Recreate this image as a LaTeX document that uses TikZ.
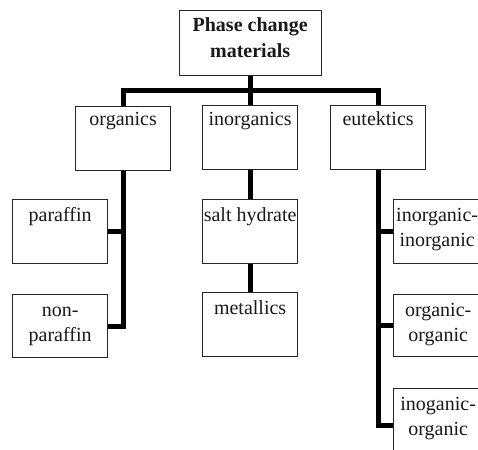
\documentclass[tikz,border=0pt]{standalone}
\usepackage{fontspec}
\setmainfont{Liberation Serif}
\begin{document}
\begin{tikzpicture}[x=1pt,y=-1pt,
  box/.style={draw=black!85, line width=1.3pt, fill=white, minimum width=95pt, minimum height=64pt, inner sep=0pt, anchor=north west},
  lbl/.style={font=\fontsize{20}{25}\selectfont, align=center, anchor=base, inner sep=0pt, text=black!90},
  conn/.style={line width=5pt, line join=miter, black}]
\useasboundingbox (0,0) rectangle (478,449);
\clip (0,0) rectangle (478,449);
\fill[white] (0,0) rectangle (478,449);
% boxes
\node[box, minimum width=142pt, minimum height=65pt] (pcm) at (178.5,10) {};
\node[box] (org) at (75,106) {};
\node[box] (inorg) at (202,105) {};
\node[box] (eut) at (330,105) {};
\node[box] (par) at (12,199) {};
\node[box, minimum height=63pt] (npar) at (12,294) {};
\node[box] (salt) at (202,199) {};
\node[box] (met) at (202,292) {};
\node[box] (ii) at (393,199) {};
\node[box, minimum height=62pt] (oo) at (393,294) {};
\node[box, minimum height=70pt] (io) at (393,388) {};
% connectors
\coordinate (bus) at (249.5,91);
\draw[conn] (pcm.south) -- (pcm.south |- inorg.north);
\draw[conn] (org.north) |- (bus) -| (eut.north);
\draw[conn] (org.south) |- (npar.east);
\draw[conn] (par.east) -- (org.south |- par.east);
\draw[conn] (inorg.south) -- (salt.north);
\draw[conn] (salt.south) -- (met.north);
\coordinate (ioend) at (393,425);
\draw[conn] (eut.south) |- (ioend);
\draw[conn] (ii.west) -- (eut.south |- ii.west);
\draw[conn] (oo.west) -- (eut.south |- oo.west);
% labels
\node[lbl, font=\fontsize{20}{26}\selectfont\bfseries] (tpcm) at ([yshift=-48pt]pcm.north) {Phase change\\materials};
\node[lbl] (torg) at ([yshift=-20pt]org.north) {organics};
\node[lbl] (tinorg) at ([yshift=-20pt]inorg.north) {inorganics};
\node[lbl] (teut) at ([yshift=-20pt]eut.north) {eutektics};
\node[lbl] (tpar) at ([yshift=-22pt]par.north) {paraffin};
\node[lbl] (tnpar) at ([yshift=-47pt]npar.north) {non-\\paraffin};
\node[lbl] (tsalt) at ([yshift=-22pt]salt.north) {salt hydrate};
\node[lbl] (tmet) at ([yshift=-22pt]met.north) {metallics};
\node[lbl] (tii) at ([yshift=-47pt,xshift=-4pt]ii.north) {inorganic-\\inorganic};
\node[lbl] (too) at ([yshift=-47pt,xshift=-3pt]oo.north) {organic-\\organic};
\node[lbl] (tio) at ([yshift=-47pt,xshift=-3pt]io.north) {inoganic-\\organic};
\end{tikzpicture}
\end{document}
